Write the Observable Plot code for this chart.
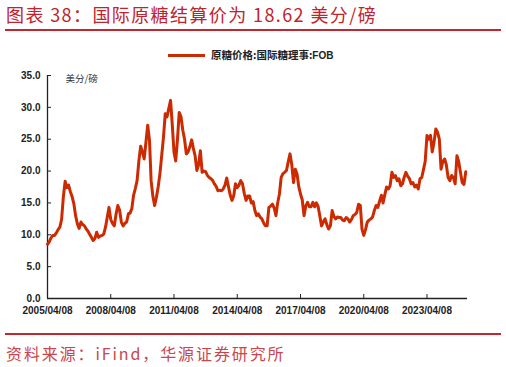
<!DOCTYPE html>
<html><head><meta charset="utf-8">
<script src="https://cdn.jsdelivr.net/npm/d3@7"></script>
<script src="https://cdn.jsdelivr.net/npm/@observablehq/plot@0.6"></script>
<style>
body{margin:0;width:506px;height:367px;position:relative;background:#fff;overflow:hidden;font-family:"Noto Sans CJK SC",sans-serif}
#title{position:absolute;left:6px;top:2px;font-size:18px;line-height:24px;color:#c0232c;white-space:nowrap;letter-spacing:1.4px}
.rule{position:absolute;left:5px;width:496px;height:2px;background:#c3262f}
#legend{position:absolute;left:168px;top:47px;font-size:10.5px;line-height:16px;color:#222;white-space:nowrap;display:flex;align-items:center;font-weight:bold}
#legend .sw{display:inline-block;width:37px;height:3px;background:#cc2a00;margin-right:6px}
#legend b{font-family:"Liberation Sans",Arial,sans-serif;font-size:10px}
#chart{position:absolute;left:0;top:62px}
#source{position:absolute;left:6px;top:342px;font-size:16px;line-height:22px;color:#c9464d;white-space:nowrap;letter-spacing:1.9px}
</style></head>
<body>
<div id="title"></div>
<div class="rule" style="top:29px"></div>
<div id="legend"><span class="sw"></span><span id="legtext"></span></div>
<div id="chart"></div>
<div class="rule" style="top:333px"></div>
<div id="source"></div>
<script>
const titleText = "图表 38：国际原糖结算价为 18.62 美分/磅";
const sourceText = "资料来源：iFind，华源证券研究所";
const seriesName = "原糖价格:国际糖理事:";
const seriesSuffix = "FOB";
const unitLabel = "美分/磅";
const startDate = "2005-04-08";
const endDate = "2025-03-10";
const xTickLabels = ["2005/04/08","2008/04/08","2011/04/08","2014/04/08","2017/04/08","2020/04/08","2023/04/08"];
const yTicks = [0,5,10,15,20,25,30,35];
// monthly prices, 2005-04 .. 2025-02 (US cents/lb)
const price2005 = [8.5,8.9,9.5,9.9,9.9,10.3,10.8,11.2,12.4];
const price2006 = [16.0,18.4,17.4,17.8,16.8,16.0,14.9,13.0,11.7,11.0,12.0,11.6];
const price2007 = [11.4,10.9,10.6,10.1,9.6,9.1,9.4,10.4,9.6,9.8,9.9,10.1];
const price2008 = [11.2,12.8,14.3,12.4,11.8,11.4,13.2,14.6,13.9,12.0,11.4,11.8];
const price2009 = [12.0,13.3,13.4,14.1,16.2,17.3,18.5,21.6,23.9,23.0,21.9,24.5];
const price2010 = [27.2,24.8,18.5,16.0,14.6,15.9,17.5,19.6,22.5,25.3,29.0,28.5];
const price2011 = [29.8,31.1,27.5,23.0,21.6,25.0,29.2,28.5,26.4,25.0,22.7,23.0];
const price2012 = [23.8,24.9,23.6,22.4,20.1,21.0,23.2,19.8,20.0,19.9,19.3,19.0];
const price2013 = [18.8,18.5,18.0,17.6,16.9,17.0,16.9,17.2,17.8,18.9,17.5,16.2];
const price2014 = [15.4,16.2,18.0,17.4,17.8,18.5,18.0,16.5,15.4,16.1,16.1,15.0];
const price2015 = [15.2,13.8,13.0,13.3,12.8,12.5,11.9,11.4,11.4,14.3,14.5,14.8];
const price2016 = [14.2,13.0,15.0,16.4,19.0,19.6,19.8,20.1,21.5,22.7,21.0,18.2];
const price2017 = [20.3,19.5,17.6,16.4,15.5,13.0,14.5,15.1,14.4,14.4,15.1,14.4];
const price2018 = [15.0,14.4,13.0,11.4,12.0,12.5,11.6,10.9,11.4,13.8,12.9,12.5];
const price2019 = [12.8,12.7,12.7,12.3,12.2,12.7,12.5,12.0,12.4,13.0,13.2,13.5];
const price2020 = [14.8,14.6,10.9,9.9,10.8,12.0,12.3,12.5,12.8,13.8,14.6,14.3];
const price2021 = [15.3,16.2,15.0,16.3,17.5,17.2,17.7,19.8,19.0,19.3,18.5,18.8];
const price2022 = [17.7,18.0,19.0,19.8,19.2,18.8,18.0,18.2,17.5,17.8,17.2,18.8];
const price2023 = [19.0,20.3,21.5,25.6,25.0,25.6,23.0,24.5,26.6,26.1,25.0,20.3];
const price2024 = [21.5,21.9,21.0,19.0,18.5,19.3,19.0,18.0,22.4,21.5,19.8,18.2];
const price2025 = [17.9,19.9];

document.getElementById("title").textContent = titleText;
document.getElementById("source").textContent = sourceText;
document.getElementById("legtext").innerHTML = seriesName + "<b>" + seriesSuffix + "</b>";

const parseDay = d3.utcParse("%Y-%m-%d");
const parseTick = d3.utcParse("%Y/%m/%d");
const start = parseDay(startDate);
const end = parseDay(endDate);
const values = [].concat(price2005,price2006,price2007,price2008,price2009,price2010,price2011,price2012,price2013,price2014,price2015,price2016,price2017,price2018,price2019,price2020,price2021,price2022,price2023,price2024,price2025);
const data = values.map((v,i)=>({date:d3.utcMonth.offset(start,i), value:v}));
const xTicks = xTickLabels.map(parseTick);

const chart = Plot.plot({
  width: 506, height: 258,
  marginLeft: 47, marginRight: 39, marginTop: 13, marginBottom: 22,
  x: {type:"utc", domain:[start,end]},
  y: {domain:[0,35]},
  style: "font-family:'Liberation Sans',Arial,sans-serif;font-size:10px;font-weight:bold;color:#222;background:#fff;overflow:visible",
  marks: [
    Plot.axisY({ticks:yTicks, tickFormat:d=>d.toFixed(1), tickSize:-4, tickPadding:11, label:null, stroke:"#222"}),
    Plot.axisX({ticks:xTicks, tickFormat:d3.utcFormat("%Y/%m/%d"), tickSize:-4, tickPadding:12, label:null, stroke:"#222"}),
    Plot.ruleX([start], {y1:0, y2:35, stroke:"#222", strokeWidth:1.3}),
    Plot.ruleY([0], {x1:start, x2:end, stroke:"#222", strokeWidth:1.3}),
    Plot.line(data, {x:"date", y:"value", stroke:"#cc2a00", strokeWidth:3, strokeLinejoin:"round"}),
    Plot.text([unitLabel], {frameAnchor:"top-left", dx:18, dy:0, text:d=>d, fontWeight:"normal", fontSize:9.5, fill:"#333", fontFamily:"Noto Sans CJK SC"})
  ]
});
document.getElementById("chart").appendChild(chart);
</script>
</body></html>
